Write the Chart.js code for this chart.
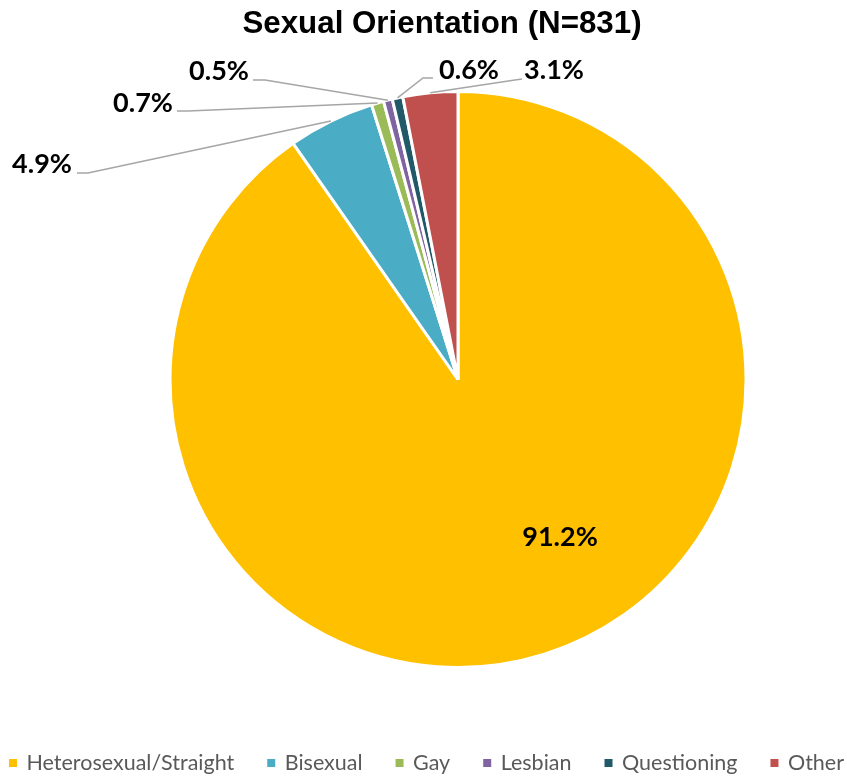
<!DOCTYPE html>
<html>
<head>
<meta charset="utf-8">
<script src="https://cdn.jsdelivr.net/npm/chart.js@4.4.1/dist/chart.umd.min.js"></script>
<style>
html,body{margin:0;padding:0;background:#fff;}
#wrap{width:847px;height:779px;position:relative;}
</style>
</head>
<body>
<div id="wrap"><canvas id="c" width="847" height="779"></canvas></div>
<script>
const categories = ["Heterosexual/Straight", "Bisexual", "Gay", "Lesbian", "Questioning", "Other"];
const percentages = [91.2, 4.9, 0.7, 0.5, 0.6, 3.1];
const percentLabels = ["91.2%", "4.9%", "0.7%", "0.5%", "0.6%", "3.1%"];
const sliceColors = ["#FFC000", "#4BACC6", "#9BBB59", "#8064A2", "#215968", "#C0504D"];
const chartTitle = "Sexual Orientation (N=831)";

// label layout (text centre, leader start, leader elbow); leader end is computed on the arc
const labelLayout = [
  {x: 560, y: 537},
  {x: 42, y: 164, sx: 77, sy: 173, ex: 88, ey: 173},
  {x: 143, y: 103, sx: 177, sy: 111, ex: 188, ey: 111},
  {x: 219, y: 71, sx: 253, sy: 80, ex: 265, ey: 80},
  {x: 469, y: 70, sx: 433, sy: 78, ex: 423, ey: 78},
  {x: 554, y: 70, sx: 522, sy: 79, ex: 515, ey: 80}
];

const labelPlugin = {
  id: 'labelPlugin',
  afterDatasetsDraw(chart) {
    const ctx = chart.ctx;
    const meta = chart.getDatasetMeta(0);
    ctx.save();
    meta.data.forEach((arc, i) => {
      const L = labelLayout[i];
      const p = arc.getProps(['x','y','startAngle','endAngle','outerRadius'], true);
      if (L.sx !== undefined) {
        const mid = (p.startAngle + p.endAngle) / 2;
        const px = p.x + Math.cos(mid) * p.outerRadius;
        const py = p.y + Math.sin(mid) * p.outerRadius;
        ctx.beginPath();
        ctx.strokeStyle = '#A6A6A6';
        ctx.lineWidth = 1.5;
        ctx.moveTo(L.sx, L.sy);
        ctx.lineTo(L.ex, L.ey);
        ctx.lineTo(px, py);
        ctx.stroke();
      }
      ctx.fillStyle = '#000';
      ctx.font = 'bold 27px Lato';
      ctx.textAlign = 'center';
      ctx.textBaseline = 'middle';
      ctx.fillText(percentLabels[i], L.x, L.y);
    });
    ctx.restore();
  },
  afterDraw(chart) {
    const ctx = chart.ctx;
    ctx.save();
    // title
    ctx.fillStyle = '#000';
    ctx.font = 'bold 31.3px "Liberation Sans", Arial';
    ctx.textAlign = 'center';
    ctx.textBaseline = 'alphabetic';
    ctx.fillText(chartTitle, 442, 33);
    // legend
    ctx.font = '21.5px Lato';
    const box = 8, gapText = 9.5, pad = 33;
    let total = 0;
    const widths = categories.map(c => ctx.measureText(c).width);
    widths.forEach((w, i) => { total += box + gapText + w + (i < widths.length - 1 ? pad : 0); });
    let x = 426.5 - total / 2;
    const yMid = 763;
    categories.forEach((c, i) => {
      ctx.fillStyle = sliceColors[i];
      ctx.fillRect(x, yMid - box / 2, box, box);
      ctx.fillStyle = '#595959';
      ctx.textAlign = 'left';
      ctx.textBaseline = 'middle';
      ctx.fillText(c, x + box + gapText, yMid);
      x += box + gapText + widths[i] + pad;
    });
    ctx.restore();
  }
};

new Chart(document.getElementById('c'), {
  type: 'pie',
  data: {
    labels: categories,
    datasets: [{
      data: percentages,
      backgroundColor: sliceColors,
      borderColor: '#FFFFFF',
      borderWidth: 3
    }]
  },
  options: {
    responsive: false,
    animation: false,
    layout: {padding: {top: 90, bottom: 110, left: 168, right: 99}},
    plugins: {
      legend: {display: false},
      title: {display: false},
      tooltip: {enabled: false}
    }
  },
  plugins: [labelPlugin]
});
</script>
</body>
</html>
